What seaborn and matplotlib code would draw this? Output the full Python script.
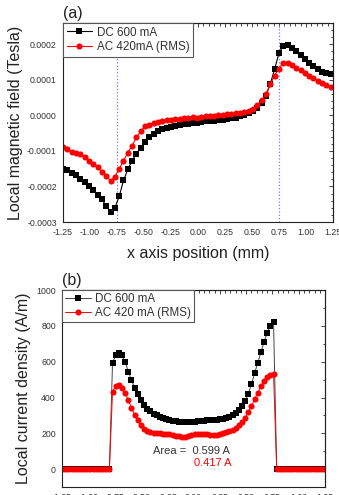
import matplotlib
matplotlib.use("Agg")
import matplotlib.pyplot as plt
from matplotlib.ticker import MultipleLocator, FormatStrFormatter
import numpy as np
import seaborn as sns

# ---- panel (a): local magnetic field, units of 1e-4 T
pos_a = [-1.25, -1.21, -1.17, -1.13, -1.09, -1.05, -1.01, -0.97, -0.93, -0.89,
         -0.85, -0.81, -0.77, -0.73, -0.69, -0.65, -0.61, -0.57, -0.53, -0.49,
         -0.45, -0.41, -0.37, -0.33, -0.29, -0.25, -0.21, -0.17, -0.13, -0.09,
         -0.05, -0.01, 0.03, 0.07, 0.11, 0.15, 0.19, 0.23, 0.27, 0.31,
         0.35, 0.39, 0.43, 0.47, 0.51, 0.55, 0.59, 0.63, 0.67, 0.71,
         0.75, 0.79, 0.83, 0.87, 0.91, 0.95, 0.99, 1.03, 1.07, 1.11,
         1.15, 1.19, 1.23]
field_dc = [-1.50, -1.55, -1.61, -1.69, -1.78, -1.87, -1.98, -2.11, -2.23, -2.36,
            -2.55, -2.72, -2.60, -2.28, -1.83, -1.52, -1.27, -1.08, -0.92, -0.76,
            -0.62, -0.52, -0.45, -0.39, -0.35, -0.32, -0.29, -0.27, -0.25, -0.23,
            -0.21, -0.20, -0.19, -0.17, -0.16, -0.15, -0.13, -0.12, -0.10, -0.08,
            -0.06, -0.03, 0.01, 0.06, 0.12, 0.22, 0.36, 0.55, 0.89, 1.30,
            1.75, 1.96, 1.97, 1.90, 1.81, 1.70, 1.58, 1.47, 1.38, 1.30,
            1.23, 1.19, 1.16]
field_ac = [-0.89, -0.95, -1.02, -1.06, -1.10, -1.16, -1.27, -1.36, -1.46, -1.58,
            -1.70, -1.85, -1.72, -1.50, -1.28, -1.05, -0.85, -0.62, -0.45, -0.30,
            -0.26, -0.22, -0.19, -0.16, -0.14, -0.12, -0.10, -0.09, -0.07, -0.06,
            -0.05, -0.06, -0.05, -0.03, -0.03, -0.01, 0.00, 0.02, 0.04, 0.04,
            0.06, 0.07, 0.10, 0.13, 0.18, 0.28, 0.42, 0.60, 0.88, 1.12,
            1.32, 1.48, 1.47, 1.42, 1.34, 1.27, 1.18, 1.12, 1.04, 0.98,
            0.92, 0.86, 0.80]
edges = [-0.75, 0.75]

# ---- panel (b): local current density (A/m)
pos_b = [-1.25, -1.22, -1.19, -1.16, -1.13, -1.10, -1.07, -1.04, -1.01, -0.98,
         -0.95, -0.92, -0.89, -0.86, -0.83, -0.80,
         -0.77, -0.74, -0.71, -0.68, -0.65, -0.62, -0.59, -0.56, -0.53, -0.50,
         -0.47, -0.44, -0.41, -0.38, -0.35, -0.32, -0.29, -0.26, -0.23, -0.20,
         -0.17, -0.14, -0.11, -0.08, -0.05, -0.02, 0.01, 0.04, 0.07, 0.10,
         0.13, 0.16, 0.19, 0.22, 0.25, 0.28, 0.31, 0.34, 0.37, 0.40,
         0.43, 0.46, 0.49, 0.52, 0.55, 0.58, 0.61, 0.64, 0.67, 0.70,
         0.73, 0.76,
         0.79, 0.82, 0.85, 0.88, 0.91, 0.94, 0.97, 1.00, 1.03, 1.06,
         1.09, 1.12, 1.15, 1.18, 1.21, 1.24]
density_dc = [0, 0, 0, 0, 0, 0, 0, 0, 0, 0, 0, 0, 0, 0, 0, 0,
              595, 635, 648, 635, 598, 545, 497, 455, 420, 388,
              360, 338, 322, 310, 300, 292, 285, 279, 274, 270,
              267, 264, 262, 262, 262, 263, 265, 267, 269, 271,
              272, 273, 275, 276, 278, 282, 287, 293, 302, 314,
              330, 352, 380, 422, 475, 535, 595, 652, 712, 762,
              802, 822,
              0, 0, 0, 0, 0, 0, 0, 0, 0, 0, 0, 0, 0, 0, 0, 0]
density_ac = [0, 0, 0, 0, 0, 0, 0, 0, 0, 0, 0, 0, 0, 0, 0, 0,
              433, 465, 470, 455, 425, 385, 342, 305, 272, 245,
              226, 213, 207, 204, 202, 200, 198, 196, 194, 191,
              187, 183, 180, 180, 184, 190, 194, 196, 197, 196,
              194, 192, 191, 193, 196, 200, 205, 211, 220, 231,
              247, 265, 288, 318, 352, 390, 428, 462, 490, 512,
              527, 533,
              0, 0, 0, 0, 0, 0, 0, 0, 0, 0, 0, 0, 0, 0, 0, 0]

sns.set_style("white")
plt.rcParams['font.family'] = ['Liberation Sans', 'DejaVu Sans']

TXT = '#333333'
fig = plt.figure(figsize=(3.39, 4.95), dpi=100)
ax1 = fig.add_axes([0.186, 0.5515, 0.796, 0.402])
ax2 = fig.add_axes([0.183, 0.016, 0.776, 0.398])


def style_axes(ax, xminor, yminor):
    ax.xaxis.set_minor_locator(MultipleLocator(xminor))
    ax.yaxis.set_minor_locator(MultipleLocator(yminor))
    ax.tick_params(which='both', direction='out', colors='#222222',
                   labelcolor=TXT, width=0.6)
    ax.tick_params(which='major', length=3, labelsize=6.3, pad=1.5)
    ax.tick_params(which='minor', length=1.8)
    for s in ax.spines.values():
        s.set_color('#222222')
        s.set_linewidth(0.8)
    top = ax.secondary_xaxis('top')
    top.xaxis.set_major_locator(ax.xaxis.get_major_locator())
    top.xaxis.set_minor_locator(MultipleLocator(xminor))
    top.tick_params(which='both', direction='in', labeltop=False, width=0.6)
    top.tick_params(which='major', length=3)
    top.tick_params(which='minor', length=1.8)
    right = ax.secondary_yaxis('right')
    right.yaxis.set_major_locator(ax.yaxis.get_major_locator())
    right.yaxis.set_minor_locator(MultipleLocator(yminor))
    right.tick_params(which='both', direction='in', labelright=False, width=0.6)
    right.tick_params(which='major', length=3)
    right.tick_params(which='minor', length=1.8)


# ---- panel (a)
dc_a = np.array(field_dc) * 1e-4
ac_a = np.array(field_ac) * 1e-4
for e in edges:
    ax1.axvline(e, color='#7777ee', linestyle=':', linewidth=0.9, zorder=1)
sns.lineplot(x=pos_a, y=dc_a, ax=ax1, color='black', linewidth=0.8,
             marker='s', markersize=4.0, markeredgewidth=0, label='DC 600 mA')
sns.lineplot(x=pos_a, y=ac_a, ax=ax1, color='red', linewidth=0.8,
             marker='o', markersize=4.4, markeredgewidth=0, label='AC 420mA (RMS)')
ax1.set_xlim(-1.25, 1.25)
ax1.set_ylim(-0.0003, 0.00026)
ax1.xaxis.set_major_locator(MultipleLocator(0.25))
ax1.yaxis.set_major_locator(MultipleLocator(0.0001))
ax1.xaxis.set_major_formatter(FormatStrFormatter('%.2f'))
ax1.yaxis.set_major_formatter(FormatStrFormatter('%.4f'))
style_axes(ax1, 0.05, 0.00002)
ax1.set_xlabel('x axis position (mm)', fontsize=11.5, color='#222222', labelpad=6)
ax1.set_ylabel('Local magnetic field (Tesla)', fontsize=11.5, color='#222222', labelpad=3)
ax1.text(0.0, 1.01, '(a)', transform=ax1.transAxes, fontsize=11.5,
         color='#222222', ha='left', va='bottom')
leg = ax1.legend(loc='upper left', borderaxespad=0, fancybox=False,
                 edgecolor='#555555', framealpha=1, fontsize=8.4,
                 handlelength=2.2, borderpad=0.3, labelspacing=0.25,
                 handletextpad=0.4)
leg.get_frame().set_linewidth(0.8)
for t in leg.get_texts():
    t.set_color(TXT)

# ---- panel (b)
sns.lineplot(x=pos_b, y=density_dc, ax=ax2, color='#444444', linewidth=0.7,
             marker='s', markersize=3.8, markeredgewidth=0,
             markerfacecolor='black', label='DC 600 mA')
sns.lineplot(x=pos_b, y=density_ac, ax=ax2, color='red', linewidth=0.7,
             marker='o', markersize=4.4, markeredgewidth=0, label='AC 420 mA (RMS)')
ax2.set_xlim(-1.25, 1.25)
ax2.set_ylim(-100, 1000)
ax2.xaxis.set_major_locator(MultipleLocator(0.25))
ax2.yaxis.set_major_locator(MultipleLocator(200))
ax2.xaxis.set_major_formatter(FormatStrFormatter('%.2f'))
style_axes(ax2, 0.05, 100)
ax2.set_ylabel('Local current density (A/m)', fontsize=11.5, color='#222222', labelpad=4)
ax2.text(0.0, 1.01, '(b)', transform=ax2.transAxes, fontsize=11.5,
         color='#222222', ha='left', va='bottom')
ax2.text(-0.39, 100, 'Area =  0.599 A', fontsize=8, color=TXT, ha='left', va='center')
ax2.text(0.0, 35, '0.417 A', fontsize=8, color='red', ha='left', va='center')
leg2 = ax2.legend(loc='upper left', borderaxespad=0, fancybox=False,
                  edgecolor='#555555', framealpha=1, fontsize=8.4,
                  handlelength=2.2, borderpad=0.25, labelspacing=0.15,
                  handletextpad=0.4)
leg2.get_frame().set_linewidth(0.8)
for t in leg2.get_texts():
    t.set_color(TXT)

fig.savefig('out.png', dpi=100)
